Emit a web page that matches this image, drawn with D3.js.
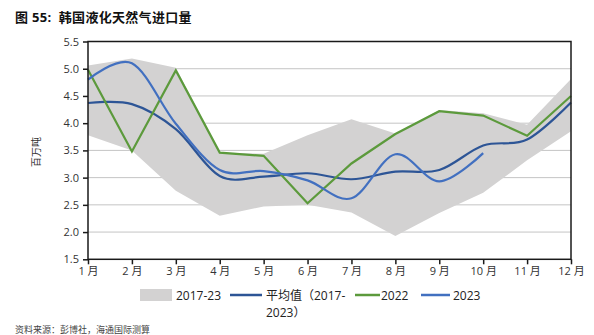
<!DOCTYPE html>
<html><head><meta charset="utf-8">
<script src="https://cdn.jsdelivr.net/npm/d3@7"></script>
<style>body{margin:0;background:#fff}svg{display:block}text{font-family:"Open Sans","Noto Sans CJK SC",sans-serif}</style>
</head><body><svg id="c" width="594" height="335"></svg>
<script>
const months = ["1 月","2 月","3 月","4 月","5 月","6 月","7 月","8 月","9 月","10 月","11 月","12 月"];
const bandUpper = [5.06,5.19,5.02,3.46,3.44,3.78,4.07,3.81,4.24,4.18,3.97,4.81];
const bandLower = [3.78,3.50,2.76,2.30,2.47,2.50,2.36,1.93,2.35,2.72,3.32,3.85];
const avg = [4.37,4.35,3.89,3.03,3.02,3.08,2.97,3.11,3.14,3.59,3.70,4.38];
const y2022 = [4.98,3.48,4.97,3.46,3.40,2.53,3.26,3.80,4.22,4.14,3.77,4.50];
const y2023 = [4.80,5.10,3.99,3.14,3.12,2.95,2.62,3.43,2.93,3.45];
const yTicks = [1.5,2.0,2.5,3.0,3.5,4.0,4.5,5.0,5.5];
const legendLabels = ["2017-23","平均值（2017-","2023）","2022","2023"];

const svg = d3.select("#c");
const x = d3.scalePoint().domain(months).range([88, 571]);
const y = d3.scaleLinear().domain([1.5,5.5]).range([259.3, 41.5]);

svg.append("text").attr("x",15).attr("y",22).attr("font-size",13).attr("font-weight","bold")
  .attr("font-family","'Noto Sans CJK SC',sans-serif").attr("fill","#111").attr("letter-spacing",0.3)
  .text("图 55:\u00a0\u00a0韩国液化天然气进口量");

// grid
svg.append("g").selectAll("line").data(yTicks.filter(d=>d>1.5&&d<5.5)).join("line")
  .attr("x1",88).attr("x2",571).attr("y1",d=>y(d)).attr("y2",d=>y(d))
  .attr("stroke","#c4c4c4").attr("stroke-width",1);

// band
const area = d3.area().x((d,i)=>x(months[i])).y0((d,i)=>y(bandLower[i])).y1(d=>y(d));
svg.append("path").datum(bandUpper).attr("d",area).attr("fill","#d3d2d2");

const line = d3.line().x((d,i)=>x(months[i])).y(d=>y(d));
const smooth = d3.line().x((d,i)=>x(months[i])).y(d=>y(d)).curve(d3.curveCardinal.tension(0));
svg.append("path").datum(avg).attr("d",smooth).attr("fill","none").attr("stroke","#2d5596").attr("stroke-width",2.2);
svg.append("path").datum(y2022).attr("d",line).attr("fill","none").attr("stroke","#5c9a3c").attr("stroke-width",2.2);
svg.append("path").datum(y2023).attr("d",smooth).attr("fill","none").attr("stroke","#4270c0").attr("stroke-width",2.2);

// box
svg.append("rect").attr("x",88).attr("y",y(5.5)).attr("width",571-88).attr("height",y(1.5)-y(5.5))
  .attr("fill","none").attr("stroke","#1a1a1a").attr("stroke-width",1.5);

// axes
const yAxis = d3.axisLeft(y).tickValues(yTicks).tickFormat(d3.format(".1f")).tickSize(5).tickPadding(4);
const gy = svg.append("g").attr("transform","translate(88,0)").call(yAxis);
gy.select(".domain").remove();
gy.selectAll("line").attr("stroke","#1a1a1a").attr("stroke-width",1.5);
gy.selectAll("text").attr("font-size",11).attr("fill","#333");

const xAxis = d3.axisBottom(x).tickSize(5).tickPadding(3);
const gx = svg.append("g").attr("transform",`translate(0,${y(1.5)})`).call(xAxis);
gx.select(".domain").remove();
gx.selectAll("line").attr("stroke","#1a1a1a").attr("stroke-width",1.5);
gx.selectAll("text").attr("font-size",11).attr("fill","#333");

svg.append("text").attr("transform","translate(40,152) rotate(-90)").attr("text-anchor","middle")
  .attr("font-size",10).attr("fill","#333").attr("font-family","'Noto Sans CJK SC',sans-serif").text("百万吨");

// legend
const lg = svg.append("g").attr("font-size",12).attr("fill","#222");
lg.append("rect").attr("x",140).attr("y",289).attr("width",32).attr("height",12).attr("fill","#d3d2d2");
lg.append("text").attr("x",176).attr("y",300).attr("fill","#222").text(legendLabels[0]);
lg.append("line").attr("x1",230).attr("x2",262).attr("y1",295).attr("y2",295).attr("stroke","#2d5596").attr("stroke-width",2.5);
lg.append("text").attr("x",266).attr("y",300).attr("fill","#222").text(legendLabels[1]);
lg.append("text").attr("x",266).attr("y",317).attr("fill","#222").text(legendLabels[2]);
lg.append("line").attr("x1",355).attr("x2",380).attr("y1",295).attr("y2",295).attr("stroke","#5c9a3c").attr("stroke-width",2.5);
lg.append("text").attr("x",381).attr("y",300).attr("fill","#222").text(legendLabels[3]);
lg.append("line").attr("x1",421).attr("x2",450).attr("y1",295).attr("y2",295).attr("stroke","#4270c0").attr("stroke-width",2.5);
lg.append("text").attr("x",453).attr("y",300).attr("fill","#222").text(legendLabels[4]);

svg.append("text").attr("x",15).attr("y",333).attr("font-size",9).attr("fill","#444")
  .attr("font-family","'Noto Sans CJK SC',sans-serif").text("资料来源：彭博社，海通国际测算");
</script></body></html>
